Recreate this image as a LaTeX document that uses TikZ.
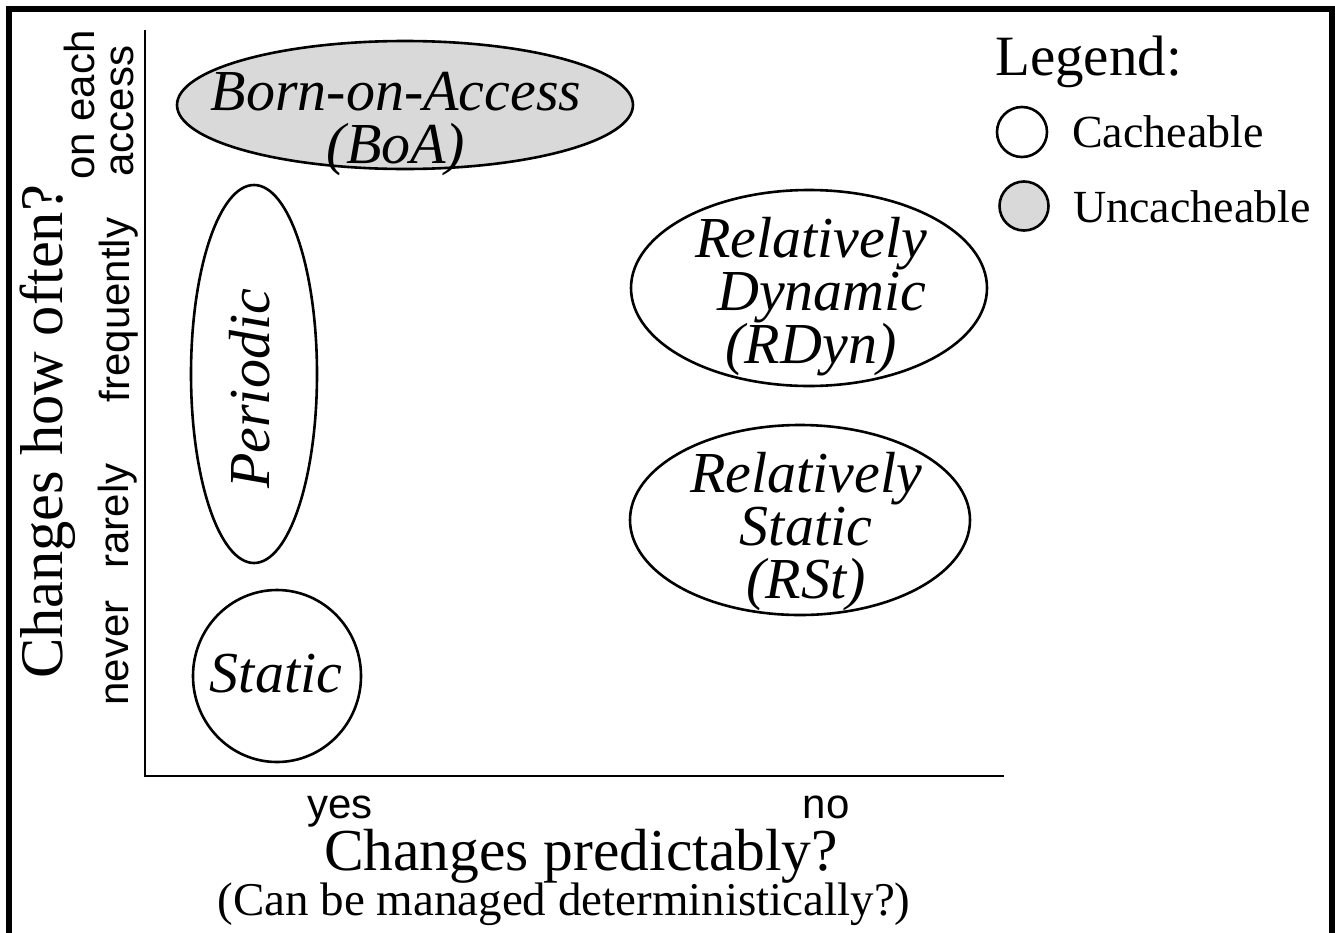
\documentclass[tikz,border=0pt]{standalone}
\usepackage{fontspec}
\setmainfont{Liberation Serif}
\setsansfont{Liberation Sans}
\usetikzlibrary{shapes.geometric}
\definecolor{boagray}{RGB}{217,217,217}
\begin{document}
\begin{tikzpicture}[x=1pt,y=-1pt,
  shp/.style={draw, line width=2.6pt, ellipse, inner sep=0pt},
  ntext/.style={font=\fontsize{58}{53}\selectfont\itshape, align=center, inner sep=0pt},
  axlab/.style={font=\fontsize{42}{38}\selectfont\sffamily, inner sep=0pt},
  bigl/.style={font=\fontsize{59.5}{60}\selectfont, inner sep=0pt},
  leg/.style={font=\fontsize{46}{46}\selectfont, inner sep=0pt, anchor=base west}]
\useasboundingbox (0,0) rectangle (1335,932);
\draw[line width=6pt] (9,980) -- (9,9) -- (1332,9) -- (1332,980);
% axes
\coordinate (ytop) at (145,30);
\coordinate (orig) at (145,776);
\coordinate (xend) at (1004,776);
\draw[line width=2.6pt] (ytop) -- (orig) -- (xend);
% categories
\node[shp, fill=boagray, minimum width=456pt, minimum height=128pt] (boa) at (405,105) {};
\node[ntext] (boat) at (396,124) {Born-on-Access\\(BoA)};
\node[shp, minimum width=126pt, minimum height=378pt] (per) at (254,374) {};
\node[ntext, rotate=90] (pert) at (250,389) {Periodic};
\node[shp, minimum width=168pt, minimum height=172pt] (sta) at (277,676) {};
\node[ntext] (stat) at (276,674) {Static};
\node[shp, minimum width=356pt, minimum height=196pt] (rdyn) at (809,288) {};
\node[ntext] (rdynt) at (811,297) {Relatively\\\hspace{22pt}Dynamic\\(RDyn)};
\node[shp, minimum width=340pt, minimum height=190pt] (rst) at (800,520) {};
\node[ntext] (rstt) at (806,532) {Relatively\\Static\\(RSt)};
% axis labels
\node[axlab, anchor=base] (yes) at (340,818) {yes};
\node[axlab, anchor=base] (no) at (826,818) {no};
\node[axlab, anchor=base, rotate=90] (never) at (128,653) {never};
\node[axlab, anchor=base, rotate=90] (rarely) at (128,516) {rarely};
\node[axlab, anchor=base, rotate=90] (freq) at (129,310) {frequently};
\node[axlab, anchor=base, rotate=90] (oneach) at (94,105) {on each};
\node[axlab, anchor=base, rotate=90] (access) at (133,111) {access};
\node[bigl, anchor=base, rotate=90, font=\fontsize{60.5}{60}\selectfont] (ylab) at (62,432) {Changes how often?};
\node[bigl, anchor=base] (xlab) at (581,870) {Changes predictably?};
\node[leg, anchor=base, font=\fontsize{47}{47}\selectfont] (xsub) at (564,915) {(Can be managed deterministically?)};
% legend
\node[font=\fontsize{57}{57}\selectfont, inner sep=0pt, anchor=base west] (legt) at (995,75) {Legend:};
\node[draw, line width=2.6pt, circle, minimum size=50pt, inner sep=0pt] (lc) at (1022,132) {};
\node[leg] (lct) at (1072,147) {Cacheable};
\node[draw, line width=2.6pt, circle, fill=boagray, minimum size=49pt, inner sep=0pt] (lu) at (1024,206) {};
\node[leg] (lut) at (1073,222) {Uncacheable};
\end{tikzpicture}
\end{document}
